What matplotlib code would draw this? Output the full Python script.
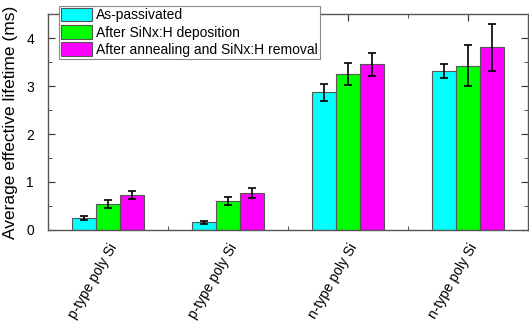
import numpy as np
import matplotlib
matplotlib.use('Agg')
import matplotlib.pyplot as plt
from matplotlib.ticker import MultipleLocator

plt.rcParams['font.family'] = ['Liberation Sans', 'DejaVu Sans']

# data
samples = ['p-type poly Si', 'p-type poly Si', 'n-type poly Si', 'n-type poly Si']
series_names = ['As-passivated', 'After SiNx:H deposition', 'After annealing and SiNx:H removal']
as_passivated = [0.25, 0.16, 2.87, 3.31]
as_passivated_err = [0.04, 0.03, 0.18, 0.15]
after_sinx = [0.54, 0.61, 3.25, 3.42]
after_sinx_err = [0.08, 0.08, 0.22, 0.43]
after_anneal = [0.73, 0.77, 3.45, 3.81]
after_anneal_err = [0.09, 0.10, 0.24, 0.49]
colors = ['#00FFFF', '#00FF00', '#FF00FF']

fig = plt.figure(figsize=(5.29, 3.26), dpi=100)
ax = fig.add_axes([0.0907, 0.2945, 0.907, 0.6625])

x = np.arange(1, len(samples) + 1)
width = 0.2
all_vals = [as_passivated, after_sinx, after_anneal]
all_errs = [as_passivated_err, after_sinx_err, after_anneal_err]
for i, (vals, errs) in enumerate(zip(all_vals, all_errs)):
    ax.bar(x + (i - 1) * width, vals, width, color=colors[i], edgecolor='#555555',
           linewidth=0.8, label=series_names[i], zorder=2)
    ax.errorbar(x + (i - 1) * width, vals, yerr=errs, fmt='none', ecolor='black',
                elinewidth=1.2, capsize=3, capthick=1.2, zorder=3)

ax.set_xlim(0.5, 4.5)
ax.set_ylim(0, 4.5)
ax.set_xticks(x)
ax.set_xticklabels(samples, rotation=60, ha='right', rotation_mode='anchor', fontsize=10)
ax.xaxis.set_minor_locator(MultipleLocator(1.0, offset=0.5))
ax.yaxis.set_major_locator(MultipleLocator(1))
ax.yaxis.set_minor_locator(MultipleLocator(0.5))
ax.tick_params(which='both', direction='in', top=True, right=True, color='#333333')
ax.tick_params(which='major', length=5)
ax.tick_params(which='minor', length=3)
ax.tick_params(axis='y', which='major', labelsize=10, pad=10)
ax.tick_params(axis='x', which='major', pad=8)
for s in ax.spines.values():
    s.set_color('#555555')
    s.set_linewidth(1.0)

ax.set_ylabel('Average effective lifetime (ms)', fontsize=12.5)
ax.yaxis.set_label_coords(-0.062, 0.5)

leg = ax.legend(loc='upper left', bbox_to_anchor=(59 / 529, 1 - 6 / 326),
                bbox_transform=fig.transFigure, fontsize=10, fancybox=False,
                framealpha=1, edgecolor='#888888', borderaxespad=0,
                handlelength=2.2, handleheight=1.1, labelspacing=0.2,
                borderpad=0.15, handletextpad=0.3)
leg.set_zorder(5)
leg.get_frame().set_linewidth(0.8)

fig.savefig('out.png', dpi=100)
